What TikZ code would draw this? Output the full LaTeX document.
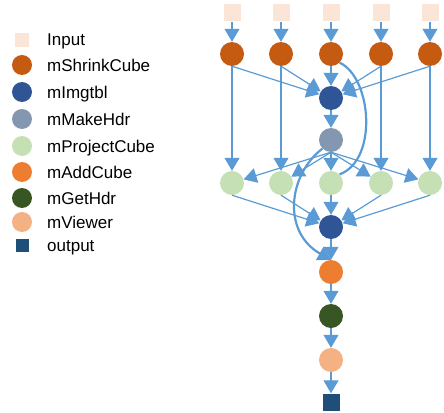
\documentclass[tikz,border=0pt]{standalone}
\usepackage{fontspec}
\setmainfont{Liberation Sans}
\usepackage{xcolor}
\usetikzlibrary{arrows.meta}

\definecolor{cInput}{HTML}{FBE5D6}
\definecolor{cShrink}{HTML}{C55A11}
\definecolor{cImg}{HTML}{2F5597}
\definecolor{cMake}{HTML}{8497B0}
\definecolor{cProject}{HTML}{C5E0B4}
\definecolor{cAdd}{HTML}{ED7D31}
\definecolor{cGet}{HTML}{375623}
\definecolor{cView}{HTML}{F4B183}
\definecolor{cOut}{HTML}{1F4E79}
\definecolor{edgeblue}{HTML}{5B9BD5}

\begin{document}
\begin{tikzpicture}[x=1pt, y=-1pt,
  job/.style={circle, minimum size=24pt, inner sep=0pt},
  file/.style={rectangle, minimum size=17pt, inner sep=0pt},
  tip/.style={-{Triangle[length=13pt, width=15pt]}},
  arr/.style={tip, draw=edgeblue, line width=1.2pt},
  loopy/.style={draw=edgeblue, line width=2.2pt},
  lbl/.style={anchor=base west, inner sep=0pt, font=\fontsize{17}{20}\selectfont}]
  \useasboundingbox (0,0) rectangle (444,412);

  % Legend
  \node[file, minimum size=14pt, fill=cInput] (keyin) at (22,40) {};
  \node[lbl] (keyintxt) at (47,46) {Input};
  \foreach \y/\col/\txt [count=\i] in {65/cShrink/mShrinkCube, 92/cImg/mImgtbl,
      119/cMake/mMakeHdr, 146/cProject/mProjectCube, 172/cAdd/mAddCube,
      198/cGet/mGetHdr, 222/cView/mViewer} {
    \node[job, minimum size=20pt, fill=\col] (key\i) at (22,\y) {};
    \node[lbl] (keytxt\i) at (47,\y+6) {\txt};
  }
  \node[file, minimum size=13pt, fill=cOut] (keyout) at (22,245) {};
  \node[lbl] (keyouttxt) at (47,251) {output};

  % Workflow nodes
  \foreach \x [count=\i] in {232,281,331,381,430} {
    \node[file, fill=cInput] (in\i) at (\x,13) {};
    \node[job, fill=cShrink] (shrink\i) at (\x,54) {};
    \node[job, fill=cProject] (proj\i) at (\x,183) {};
  }
  \node[job, fill=cImg] (img1) at (331,98) {};
  \node[job, fill=cMake] (make) at (331,140) {};
  \node[job, fill=cImg] (img2) at (331,227) {};
  \node[job, fill=cAdd] (add) at (331,272) {};
  \node[job, fill=cGet] (gethdr) at (331,316) {};
  \node[job, fill=cView] (viewer) at (331,360) {};
  \node[file, fill=cOut] (out) at (331,402) {};

  % Edges
  \foreach \i in {1,...,5} {
    \draw[arr] (in\i) -- (shrink\i);
    \draw[arr] (shrink\i.south) -- (img1);
    \draw[arr] (make.south) -- (proj\i);
    \draw[arr] (proj\i.south) -- (img2);
  }
  \foreach \i in {1,2,4,5}
    \draw[arr] (shrink\i) -- (proj\i);
  \draw[arr] (img1) -- (make);
  \draw[arr] (img2) -- (add);
  \draw[arr] (add) -- (gethdr);
  \draw[arr] (gethdr) -- (viewer);
  \draw[arr] (viewer) -- (out);

  % Long curved edges
  \draw[loopy] (shrink3.south east) .. controls (372,78) and (378,160) .. (proj3.north east);
  \draw[loopy, tip] (make.south west)
    .. controls (288,175) and (282,232) .. (add.north);
\end{tikzpicture}
\end{document}
